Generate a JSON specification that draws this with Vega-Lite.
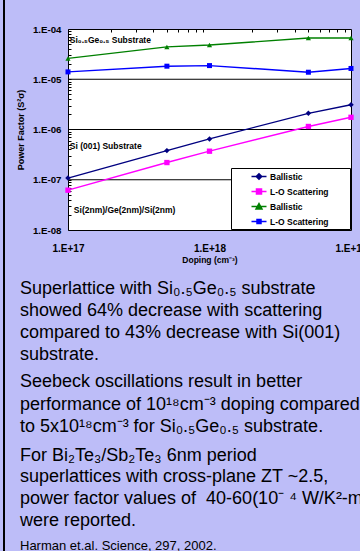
{
  "$schema": "https://vega.github.io/schema/vega-lite/v6.json",
  "autosize": {"type": "none"},
  "padding": {"left": 3, "top": 0, "right": 357, "bottom": 551},
  "background": "#bdbdf8",
  "datasets": {
    "pf": [
      {"s": "a", "dop": 1e17, "pf": 1.08e-7}, {"s": "a", "dop": 5e17, "pf": 3.8e-7}, {"s": "a", "dop": 1e18, "pf": 6.5e-7}, {"s": "a", "dop": 5e18, "pf": 2.1e-6}, {"s": "a", "dop": 1e19, "pf": 3.1e-6},
      {"s": "b", "dop": 1e17, "pf": 6.2e-8}, {"s": "b", "dop": 5e17, "pf": 2.2e-7}, {"s": "b", "dop": 1e18, "pf": 3.7e-7}, {"s": "b", "dop": 5e18, "pf": 1.15e-6}, {"s": "b", "dop": 1e19, "pf": 1.75e-6},
      {"s": "c", "dop": 1e17, "pf": 2.6e-5}, {"s": "c", "dop": 5e17, "pf": 4.4e-5}, {"s": "c", "dop": 1e18, "pf": 4.8e-5}, {"s": "c", "dop": 5e18, "pf": 6.6e-5}, {"s": "c", "dop": 1e19, "pf": 6.6e-5},
      {"s": "d", "dop": 1e17, "pf": 1.4e-5}, {"s": "d", "dop": 5e17, "pf": 1.82e-5}, {"s": "d", "dop": 1e18, "pf": 1.87e-5}, {"s": "d", "dop": 5e18, "pf": 1.38e-5}, {"s": "d", "dop": 1e19, "pf": 1.64e-5}
    ],
    "grid": [{"pf": 1e-5}, {"pf": 1e-6}, {"pf": 1e-7}],
    "notes": [
      {"dop": 1.03e17, "pf": 6.0e-5, "t": "Si₀.₅Ge₀.₅ Substrate"},
      {"dop": 1.03e17, "pf": 4.6e-7, "t": "Si (001) Substrate"},
      {"dop": 1.1e17, "pf": 2.5e-8, "t": "Si(2nm)/Ge(2nm)/Si(2nm)"}
    ],
    "body": [
      {"ln": 0, "t": "Superlattice with Si₀.₅Ge₀.₅ substrate"},
      {"ln": 1, "t": "showed 64% decrease with scattering"},
      {"ln": 2, "t": "compared to 43% decrease with Si(001)"},
      {"ln": 3, "t": "substrate."},
      {"ln": 4.27, "t": "Seebeck oscillations result in better"},
      {"ln": 5.28, "t": "performance of 10¹⁸cm⁻³ doping compared"},
      {"ln": 6.3, "t": "to 5x10¹⁸cm⁻³ for Si₀.₅Ge₀.₅ substrate."},
      {"ln": 7.61, "t": "For Bi₂Te₃/Sb₂Te₃ 6nm period"},
      {"ln": 8.6, "t": "superlattices with cross-plane ZT ~2.5,"},
      {"ln": 9.6, "t": "power factor values of \u00a040-60(10⁻ ⁴ W/K²-m)"},
      {"ln": 10.6, "t": "were reported."}
    ],
    "cite": [
      {"ln": 11.7, "t": "Harman et.al. Science, 297, 2002."}
    ]
  },
  "spacing": 10,
  "hconcat": [
    {
      "width": 2, "height": 551,
      "view": {"stroke": null},
      "data": {"values": [{"k": 1}]},
      "mark": {"type": "rect", "color": "black"},
      "encoding": {}
    },
    {
      "spacing": 22,
      "vconcat": [
        {
          "width": 1, "height": 1,
          "view": {"stroke": null},
          "data": {"values": []},
          "mark": "point",
          "encoding": {}
        },
        {
          "spacing": 8,
          "vconcat": [
            {
              "width": 283, "height": 201,
              "view": {"fill": "white", "stroke": "black", "strokeWidth": 1},
              "encoding": {
                "y": {
                  "field": "pf", "type": "quantitative",
                  "scale": {"type": "log", "domain": [1e-8, 1e-4], "nice": false},
                  "axis": {
                    "values": [1e-8, 2e-8, 3e-8, 4e-8, 5e-8, 6e-8, 7e-8, 8e-8, 9e-8, 1e-7, 2e-7, 3e-7, 4e-7, 5e-7, 6e-7, 7e-7, 8e-7, 9e-7, 1e-6, 2e-6, 3e-6, 4e-6, 5e-6, 6e-6, 7e-6, 8e-6, 9e-6, 1e-5, 2e-5, 3e-5, 4e-5, 5e-5, 6e-5, 7e-5, 8e-5, 9e-5, 1e-4],
                    "labelExpr": "abs(log(datum.value)/LN10 - round(log(datum.value)/LN10)) < 0.001 ? '1.E-0' + (-round(log(datum.value)/LN10)) : ''",
                    "labelOverlap": false, "labelFlush": false,
                    "title": "Power Factor (S²σ)",
                    "titleFont": "Liberation Sans", "titleFontSize": 9, "titleFontWeight": "bold", "titleColor": "black", "titlePadding": 7,
                    "labelFont": "Liberation Sans", "labelFontSize": 9.7, "labelFontWeight": "bold", "labelColor": "black", "labelPadding": 10,
                    "tickSize": -3, "tickColor": "black", "tickWidth": 1, "domain": false, "grid": false
                  }
                }
              },
              "layer": [
                {
                  "data": {"name": "grid"},
                  "mark": {"type": "rule", "color": "black", "strokeWidth": 1},
                  "encoding": {}
                },
                {
                  "data": {"name": "pf"},
                  "mark": {"type": "line", "strokeWidth": 1.4},
                  "encoding": {
                    "x": {
                      "field": "dop", "type": "quantitative",
                      "scale": {"type": "log", "domain": [1e17, 1e19], "nice": false},
                      "axis": {
                        "values": [1e17, 1e18, 1e19],
                        "labelExpr": "'1.E+' + round(log(datum.value)/LN10)",
                        "labelOverlap": false, "labelFlush": false, "labelBound": false,
                        "ticks": false, "domain": false, "grid": false,
                        "labelFont": "Liberation Sans", "labelFontSize": 10, "labelFontWeight": "bold", "labelColor": "black", "labelPadding": 13,
                        "title": "Doping (cm⁻³)",
                        "titleFont": "Liberation Sans", "titleFontSize": 8.5, "titleFontWeight": "bold", "titleColor": "black", "titlePadding": 2
                      }
                    },
                    "color": {
                      "field": "s", "type": "nominal",
                      "scale": {"domain": ["a", "b", "c", "d"], "range": ["#000080", "#ff00ff", "#008000", "#0000ff"]},
                      "legend": null
                    }
                  }
                },
                {
                  "data": {"name": "pf"},
                  "mark": {"type": "point", "filled": true, "opacity": 1},
                  "encoding": {
                    "x": {"field": "dop", "type": "quantitative", "scale": {"type": "log", "domain": [1e17, 1e19], "nice": false}, "axis": null},
                    "color": {
                      "field": "s", "type": "nominal",
                      "scale": {"domain": ["a", "b", "c", "d"], "range": ["#000080", "#ff00ff", "#008000", "#0000ff"]},
                      "legend": null
                    },
                    "shape": {
                      "field": "s", "type": "nominal",
                      "scale": {"domain": ["a", "b", "c", "d"], "range": ["diamond", "square", "triangle-up", "square"]},
                      "legend": null
                    },
                    "size": {
                      "field": "s", "type": "nominal",
                      "scale": {"domain": ["a", "b", "c", "d"], "range": [30, 25, 35, 18]},
                      "legend": null
                    }
                  }
                },
                {
                  "data": {"name": "notes"},
                  "mark": {"type": "text", "align": "left", "baseline": "middle", "font": "Liberation Sans", "fontSize": 8.5, "fontWeight": "bold", "color": "black"},
                  "encoding": {
                    "x": {
                      "field": "dop", "type": "quantitative",
                      "scale": {"type": "log", "domain": [1e17, 1e19], "nice": false},
                      "axis": {
                        "orient": "top",
                        "values": [2e17, 3e17, 4e17, 5e17, 6e17, 7e17, 8e17, 9e17, 2e18, 3e18, 4e18, 5e18, 6e18, 7e18, 8e18, 9e18],
                        "labels": false, "ticks": true, "tickSize": -3, "tickColor": "black", "domain": false, "grid": false, "title": null
                      }
                    },
                    "text": {"field": "t"}
                  }
                },
                {
                  "data": {"values": []},
                  "mark": {"type": "point", "filled": true, "size": 100, "strokeWidth": 1.5, "opacity": 1},
                  "encoding": {
                    "color": {
                      "field": "s", "type": "nominal",
                      "scale": {"domain": ["a", "b", "c", "d"], "range": ["#000080", "#ff00ff", "#008000", "#0000ff"]},
                      "legend": {
                        "title": null, "orient": "bottom-right", "offset": 1,
                        "fillColor": "white", "strokeColor": "black", "padding": 2.5,
                        "labelFont": "Liberation Sans", "labelFontSize": 8.5, "labelFontWeight": "bold", "labelColor": "black",
                        "symbolSize": 100, "symbolStrokeWidth": 1.5, "symbolOpacity": 1,
                        "rowPadding": 3, "labelOffset": 5, "symbolOffset": 19.5,
                        "labelExpr": "datum.value == 'a' || datum.value == 'c' ? 'Ballistic' : 'L-O Scattering'"
                      }
                    },
                    "shape": {
                      "field": "s", "type": "nominal",
                      "scale": {"domain": ["a", "b", "c", "d"], "range": [
                        "M-1.5,0H1.5M0,-0.55L0.55,0L0,0.55L-0.55,0ZM17.1,0",
                        "M-1.5,0H1.5M-0.5,-0.5H0.5V0.5H-0.5ZM17.1,0",
                        "M-1.5,0H1.5M0,-0.6L0.6,0.5H-0.6ZM17.1,0",
                        "M-1.5,0H1.5M-0.4,-0.4H0.4V0.4H-0.4ZM17.1,0"
                      ]}
                    },
                    "stroke": {
                      "field": "s", "type": "nominal",
                      "scale": {"domain": ["a", "b", "c", "d"], "range": ["#000080", "#ff00ff", "#008000", "#0000ff"]}
                    }
                  }
                }
              ],
              "resolve": {
                "scale": {"color": "independent", "shape": "independent", "stroke": "independent"},
                "axis": {"x": "independent"}
              }
            },
            {
              "width": 283, "height": 283,
              "view": {"stroke": null},
              "encoding": {
                "x": {"datum": 0, "type": "quantitative", "scale": {"domain": [0, 1]}, "axis": null},
                "y": {"field": "ln", "type": "quantitative", "scale": {"domain": [-1, 11.92], "reverse": true, "nice": false, "zero": false}, "axis": null},
                "text": {"field": "t"}
              },
              "layer": [
                {
                  "data": {"name": "body"},
                  "mark": {"type": "text", "align": "left", "baseline": "alphabetic", "font": "Liberation Sans", "fontSize": 18, "color": "black", "dx": -48}
                },
                {
                  "data": {"name": "cite"},
                  "mark": {"type": "text", "align": "left", "baseline": "alphabetic", "font": "Liberation Sans", "fontSize": 13, "color": "black", "dx": -48}
                }
              ]
            }
          ]
        }
      ]
    }
  ],
  "config": {
    "font": "Liberation Sans",
    "title": {"color": "black"}
  }
}
